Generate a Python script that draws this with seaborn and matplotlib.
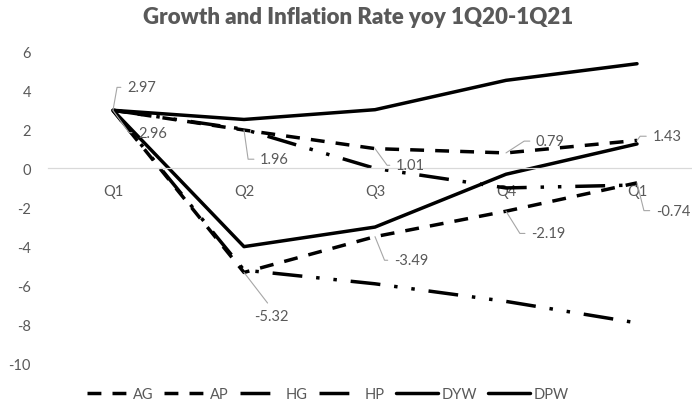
import matplotlib
matplotlib.use("Agg")
import matplotlib.pyplot as plt
from matplotlib.lines import Line2D
import seaborn as sns
import numpy as np
import pandas as pd

# data
quarters = ["Q1", "Q2", "Q3", "Q4", "Q1"]
ag = [2.96, -5.32, -3.49, -2.19, -0.74]
ap = [2.97, 1.96, 1.01, 0.79, 1.43]
hg = [2.97, -5.2, -5.9, -6.8, -7.9]
hp = [2.97, 2.0, 0.0, -1.0, -0.85]
dyw = [2.97, -4.0, -3.0, -0.3, 1.25]
dpw = [2.97, 2.5, 3.0, 4.5, 5.35]
series_names = ["AG", "AP", "HG", "HP", "DYW", "DPW"]
series_vals = [ag, ap, hg, hp, dyw, dpw]

pos = np.arange(len(quarters))
df = pd.DataFrame({
    "pos": np.tile(pos, len(series_names)),
    "value": np.concatenate(series_vals),
    "series": np.repeat(series_names, len(quarters)),
})

sns.set_theme(style="white")
plt.rcParams["font.family"] = ["Lato", "DejaVu Sans"]
plt.rcParams["axes.unicode_minus"] = False

gray = "#595959"
lw = 2.5
dash = (4, 3.2)
dashdotdot = (8.6, 4, 1, 4, 1, 4)
dash_map = {"AG": dash, "AP": dash, "HG": dashdotdot, "HP": dashdotdot,
            "DYW": "", "DPW": ""}

fig = plt.figure(figsize=(6.92, 4.06), dpi=100)
ax = fig.add_axes([47.5 / 692, 41 / 406, 655 / 692, 313 / 406])

sns.lineplot(data=df, x="pos", y="value", style="series", dashes=dash_map,
             color="black", linewidth=lw, legend=False, errorbar=None,
             sort=False, ax=ax)
for ln in ax.get_lines():
    ln.set_solid_joinstyle("round")

ax.set_xlim(-0.5, 4.5)
ax.set_ylim(-10, 6)
ax.set_yticks(range(-10, 7, 2))
ax.set_xticks(pos, quarters)
ax.set_xlabel("")
ax.set_ylabel("")
ax.grid(False)
for s in ["left", "right", "top"]:
    ax.spines[s].set_visible(False)
ax.spines["bottom"].set_position(("data", 0))
ax.spines["bottom"].set_color("#d9d9d9")
ax.spines["bottom"].set_linewidth(0.9)
ax.tick_params(axis="y", length=0, pad=12, labelcolor=gray, labelsize=10.5)
ax.tick_params(axis="x", length=0, pad=11, labelcolor=gray, labelsize=10.5)

# data labels with leader lines
labels = [
    ("AP", 0, (10, 16.5), 80),
    ("AG", 0, (18, -16), -54),
    ("AP", 1, (11.5, -21), -82),
    ("AP", 2, (15, -12), -54),
    ("AP", 3, (21.5, 8.5), 33),
    ("AP", 4, (11, 3), 53),
    ("AG", 2, (13.5, -17), -68),
    ("AG", 3, (18, -16), -58),
    ("AG", 4, (13.5, -20), -76),
]
lookup = dict(zip(series_names, series_vals))
for name, i, off, ang in labels:
    v = lookup[name][i]
    ax.annotate(f"{v:.2f}", xy=(pos[i], v), xytext=off, textcoords="offset points",
                ha="left", va="center", fontsize=10.5, color=gray,
                arrowprops=dict(arrowstyle="-", color="#a6a6a6", lw=0.8,
                                shrinkA=2, shrinkB=0, relpos=(0, 0.5),
                                connectionstyle=f"angle,angleA=0,angleB={ang},rad=0"))
v = ag[1]
ax.annotate(f"{v:.2f}", xy=(pos[1], v), xytext=(20, -31), textcoords="offset points",
            ha="center", va="center", fontsize=10.5, color=gray,
            arrowprops=dict(arrowstyle="-", color="#a6a6a6", lw=0.8,
                            shrinkA=2, shrinkB=0, relpos=(0.5, 1)))

fig.text(358 / 692, 1 - 18 / 406, "Growth and Inflation Rate yoy 1Q20-1Q21",
         ha="center", va="center", fontsize=16, fontweight="heavy", color=gray)

handles = [Line2D([], [], color="black", lw=lw, dashes=dash),
           Line2D([], [], color="black", lw=lw, dashes=dash),
           Line2D([], [], color="black", lw=lw, dashes=(8.6, 20)),
           Line2D([], [], color="black", lw=lw, dashes=(8.6, 20)),
           Line2D([], [], color="black", lw=lw),
           Line2D([], [], color="black", lw=lw)]
fig.legend(handles, series_names, loc="center", bbox_to_anchor=(328 / 692, 11 / 406),
           ncol=6, frameon=False, fontsize=10.5, handlelength=2.9, handletextpad=0.25,
           columnspacing=0.75, labelcolor=gray)

fig.savefig("out.png", dpi=100)
